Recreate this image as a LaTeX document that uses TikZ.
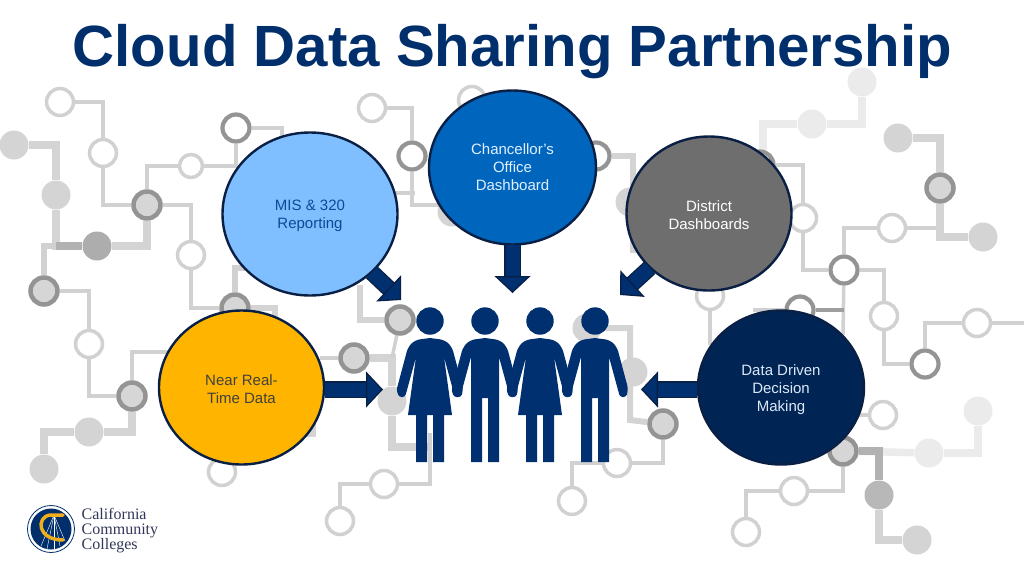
\documentclass[tikz,border=0pt]{standalone}
\usepackage{fontspec}
\setmainfont{Liberation Sans}
\newfontfamily\sealfont{Liberation Serif}
\usetikzlibrary{shapes.geometric,arrows.meta,backgrounds}
\definecolor{navytitle}{HTML}{002F6C}
\definecolor{navyline}{HTML}{0A1F44}
\definecolor{peoplecol}{HTML}{003070}
\definecolor{sealgold}{HTML}{F0AE1E}
\newcommand{\lowtext}{\rule{0pt}{15pt}}
\tikzset{
	ringpad/.style={circle,draw=#1,line width=3.5pt,fill=white,minimum size=27pt,inner sep=0pt},
	ringpad/.default={black!18},
	hubpad/.style={circle,draw=#1,line width=4.5pt,fill=black!16,minimum size=27pt,inner sep=0pt},
	hubpad/.default={black!42},
	dotpad/.style={circle,fill=#1,minimum size=29pt,inner sep=0pt},
	dotpad/.default={black!17},
	wire/.style={draw=black!18,line width=3.5pt},
	bus/.style={draw=black!17,line width=7.5pt},
	bubble/.style={ellipse,draw=navyline,line width=2.4pt,minimum width=165pt,minimum height=154pt,inner sep=0pt,align=center,font=\fontsize{15}{18}\selectfont},
	blockarrow/.style={draw=navyline,line width=1.3pt,double=peoplecol,double distance=14pt,shorten <=-0.6pt,
		-{Triangle[length=17pt,width=36pt,fill=peoplecol,color=navyline,line width=1.3pt]}},
	pics/woman/.style={code={
		\fill[peoplecol] (0,0) circle (13.7);
		\fill[peoplecol] (0,17) [rounded corners=5pt] -- (15,19) -- (22,26) -- (33.5,69) [rounded corners=2.5pt] -- (31,76) -- (25,76) -- (23,69) [sharp corners] -- (14,36) -- (22,94) -- (14,94) -- (14,141) -- (3,141) -- (3,94) -- (-3,94) -- (-3,141) -- (-14,141) -- (-14,94) -- (-22,94) -- (-14,36) [rounded corners=2.5pt] -- (-23,69) -- (-25,76) -- (-31,76) -- (-33.5,69) [rounded corners=5pt] -- (-22,26) -- (-15,19) [sharp corners] -- cycle;
	}},
	pics/man/.style={code={
		\fill[peoplecol] (0,0) circle (13.7);
		\fill[peoplecol] (0,17) [rounded corners=5pt] -- (15,19) -- (22,26) -- (33.5,69) [rounded corners=2.5pt] -- (31,76) -- (25,76) -- (23,69) [sharp corners] -- (14,36) -- (14,141) -- (3,141) -- (3,77) -- (-3,77) -- (-3,141) -- (-14,141) -- (-14,36) [rounded corners=2.5pt] -- (-23,69) -- (-25,76) -- (-31,76) -- (-33.5,69) [rounded corners=5pt] -- (-22,26) -- (-15,19) [sharp corners] -- cycle;
	}},
}
\begin{document}
\begin{tikzpicture}[x=1pt,y=-1pt]
	\useasboundingbox (0,0) rectangle (1024,576);

	\foreach \padname/\x/\y in {ringa/60/102,ringb/103/153,ringd/191/255,ringe/89/344,ringf/222/472,ringg/372/108,ringh/340/521,ringi/384/484,ringj/472/100,ringk/892/228,ringl/884/316,ringm/977/323,ringn/883/415,ringo/794/491,ringp/746/532,ringq/617/463,ringr/572/501,rings/710/296,ringt/803/218}
		\node[ringpad] (\padname) at (\x,\y) {};
	\node[ringpad,minimum size=23pt] (ringc) at (191,166) {};
	\foreach \padname/\x/\y in {huba/147/205,hubd/44/291,hubc/235/308,hube/132/396,hubf/354/358,hubg/400/320,hubp/663/424,hubl/940/188,hubo/843/451}
		\node[hubpad] (\padname) at (\x,\y) {};
	\foreach \padname/\x/\y in {hubb/236/128,hubh/412/156,hubi/596/156,hubk/844/270,hubm/925/364,hubn/800/310,hubj/760/165}
		\node[ringpad=black!42,line width=4.2pt] (\padname) at (\x,\y) {};
	\foreach \padname/\x/\y in {dota/14/145,dotb/56/195,dote/89/432,dotf/44/469,dotg/392/401,doth/633/372,doti/587/328,dotj/898/138,dotk/983/237,dotm/917/540,dotn/452/212,doto/630/202}
		\node[dotpad] (\padname) at (\x,\y) {};
	\node[dotpad=black!32] (dotc) at (97,246) {};
	\node[dotpad=black!28] (dotl) at (879,495) {};
	\foreach \padname/\x/\y in {palea/862/82,paleb/812/124,palec/978/411,paled/929/453}
		\node[dotpad=black!8] (\padname) at (\x,\y) {};

	\coordinate (enda) at (282,150);
	\coordinate (endb) at (262,268);
	\coordinate (endc) at (275,335);
	\coordinate (endd) at (175,352);
	\coordinate (ende) at (222,440);
	\coordinate (endf) at (285,434);
	\coordinate (endg) at (313,415);
	\coordinate (endh) at (320,358);
	\coordinate (endi) at (392,358);
	\coordinate (endj) at (430,447);
	\coordinate (endk) at (430,433);
	\coordinate (endl) at (360,285);
	\coordinate (endm) at (440,205);
	\coordinate (endn) at (390,193);
	\coordinate (endo) at (415,193);
	\coordinate (endp) at (633,250);
	\coordinate (endq) at (660,250);
	\coordinate (endr) at (763,150);
	\coordinate (ends) at (940,228);
	\coordinate (endt) at (1024,323);
	\coordinate (endu) at (843,335);
	\coordinate (endv) at (753,310);
	\coordinate (endw) at (710,345);
	\coordinate (endx) at (855,415);
	\coordinate (endy) at (630,420);

	\begin{scope}[on background layer]
		\draw[wire] (ringa) -| (ringb);
		\draw[wire] (ringb) |- (huba);
		\draw[wire] (huba) |- (ringc);
		\draw[wire] (ringc) -| (hubb);
		\draw[wire] (hubb) -| (enda);
		\draw[wire] (huba) -| (ringd);
		\draw[wire] (ringd) |- (hubc);
		\draw[wire,line width=6pt] (hubc) |- (endb);
		\draw[bus,line width=6pt] (hubc) -| (endc);
		\draw[bus] (dota) -| (dotb);
		\draw[bus] (dotb) |- (dotc);
		\draw[bus] (huba) |- (dotc);
		\draw[wire,line width=6pt] (dotc) -| (hubd);
		\draw[bus,draw=black!30] (dotb |- dotc) -- (dotc);
		\draw[wire] (hubd) -| (ringe);
		\draw[wire] (ringe) |- (hube);
		\draw[wire] (hube) |- (endd);
		\draw[bus] (hube) |- (dote);
		\draw[bus] (dote) -| (dotf);
		\draw[wire] (ringf) -- (ende);
		\draw[bus,line width=6pt] (endf) -| (endg);
		\draw[wire] (hubf) -- (endh);
		\draw[bus] (hubf) -| (dotg);
		\draw[bus] (dotg) |- (endj);
		\draw[wire] (hubg) -- (endi);
		\draw[bus,line width=6pt] (hubg) -| (endl);
		\draw[wire] (endk) |- (ringi);
		\draw[wire] (ringi) -| (ringh);
		\draw[wire] (ringg) -| (hubh);
		\draw[wire] (hubh) |- (endm);
		\draw[wire] (endn) -- (endo);
		\draw[bus,line width=6pt] (hubi) -| (endp) -- (endq);
		\draw[bus,draw=black!8] (palea) |- (paleb);
		\draw[bus,draw=black!8] (paleb) -| (endr);
		\draw[wire] (hubj) -| (ringt);
		\draw[wire] (ringt) |- (hubk);
		\draw[wire] (hubk) |- (ringk);
		\draw[wire] (ringk) -- (ends);
		\draw[bus] (dotj) -| (hubl);
		\draw[bus] (hubl) |- (dotk);
		\draw[wire] (hubk) -| (ringl);
		\draw[wire] (ringl) |- (hubm);
		\draw[wire] (hubm) |- (ringm);
		\draw[wire] (ringm) -- (endt);
		\draw[wire] (hubk) -- (endu);
		\draw[wire] (hubn) -- (endv);
		\draw[wire,draw=black!38] (hubn) -- (hubk |- hubn);
		\draw[wire] (rings) -- (endw);
		\draw[wire] (ringn) -- (endx);
		\draw[bus,draw=black!8] (palec) |- (paled);
		\draw[bus,draw=black!8] (paled) -- (hubo);
		\draw[bus,draw=black!30] (hubo) -| (dotl);
		\draw[bus] (dotl) |- (dotm);
		\draw[wire] (hubo) |- (ringo);
		\draw[wire] (ringo) -| (ringp);
		\draw[bus,line width=6pt] (doti) -| (endy) -- (hubp);
		\draw[wire] (hubp) |- (ringq);
		\draw[wire] (ringq) -| (ringr);
	\end{scope}

	\pic at (430,321) {woman};
	\pic at (485,321) {man};
	\pic at (540,321) {woman};
	\pic at (595,321) {man};

	\node[anchor=base,text=navytitle,font=\fontsize{58.2}{60}\selectfont\bfseries] (title) at (512.5,66.5) {Cloud Data Sharing Partnership};

	\node[bubble,fill={rgb,255:red,127;green,190;blue,255},minimum width=175pt,minimum height=163pt,text={rgb,255:red,10;green,75;blue,150}] (mis) at (310,214) {\lowtext MIS \& 320\\Reporting};
	\node[bubble,fill={rgb,255:red,0;green,101;blue,189},minimum width=167pt,text={rgb,255:red,225;green,240;blue,255}] (chancellor) at (512.5,167.5) {Chancellor's\\Office\\Dashboard};
	\node[bubble,fill=black!57,text=white] (district) at (709,213.5) {\lowtext District\\Dashboards};
	\node[bubble,fill={rgb,255:red,255;green,181;blue,0},text=black!75] (nearreal) at (241.5,387.5) {\lowtext Near Real-\\Time Data};
	\node[bubble,fill={rgb,255:red,0;green,37;blue,84},minimum width=166pt,text={rgb,255:red,220;green,232;blue,248}] (datadriven) at (781,387.5) {\lowtext Data Driven\\Decision\\Making};

	\coordinate (tipmis) at (401,300);
	\coordinate (tipchancellor) at (512.5,293);
	\coordinate (tipdistrict) at (620,295);
	\coordinate (tipnear) at (383,389.5);
	\coordinate (tipdata) at (641,389.5);
	\draw[blockarrow] (mis) -- (tipmis);
	\draw[blockarrow] (chancellor) -- (tipchancellor);
	\draw[blockarrow] (district) -- (tipdistrict);
	\draw[blockarrow] (nearreal.east |- tipnear) -- (tipnear);
	\draw[blockarrow] (datadriven.west |- tipdata) -- (tipdata);

	\node[circle,draw=navytitle,line width=0.8pt,fill=white,minimum size=47pt,inner sep=0pt] (sealring) at (51,529) {};
	\node[circle,fill=navytitle,minimum size=41pt,inner sep=0pt] (seal) at (51,529) {};
	\foreach \x/\y in {41/546,47/549,54/549,60/546,65/541}
		\draw[white,line width=0.4pt] (54,515) -- (\x,\y);
	\draw[sealgold,line width=3.5pt,line cap=round] (63,515) -- (50,515) .. controls (36,517) and (37,540) .. (63,540);
	\node[anchor=north west,inner sep=0pt,align=left,text={rgb,255:red,50;green,55;blue,90},font=\sealfont\fontsize{16}{15}\selectfont] (sealtext) at (81.5,508) {California\\Community\\Colleges};
\end{tikzpicture}
\end{document}
